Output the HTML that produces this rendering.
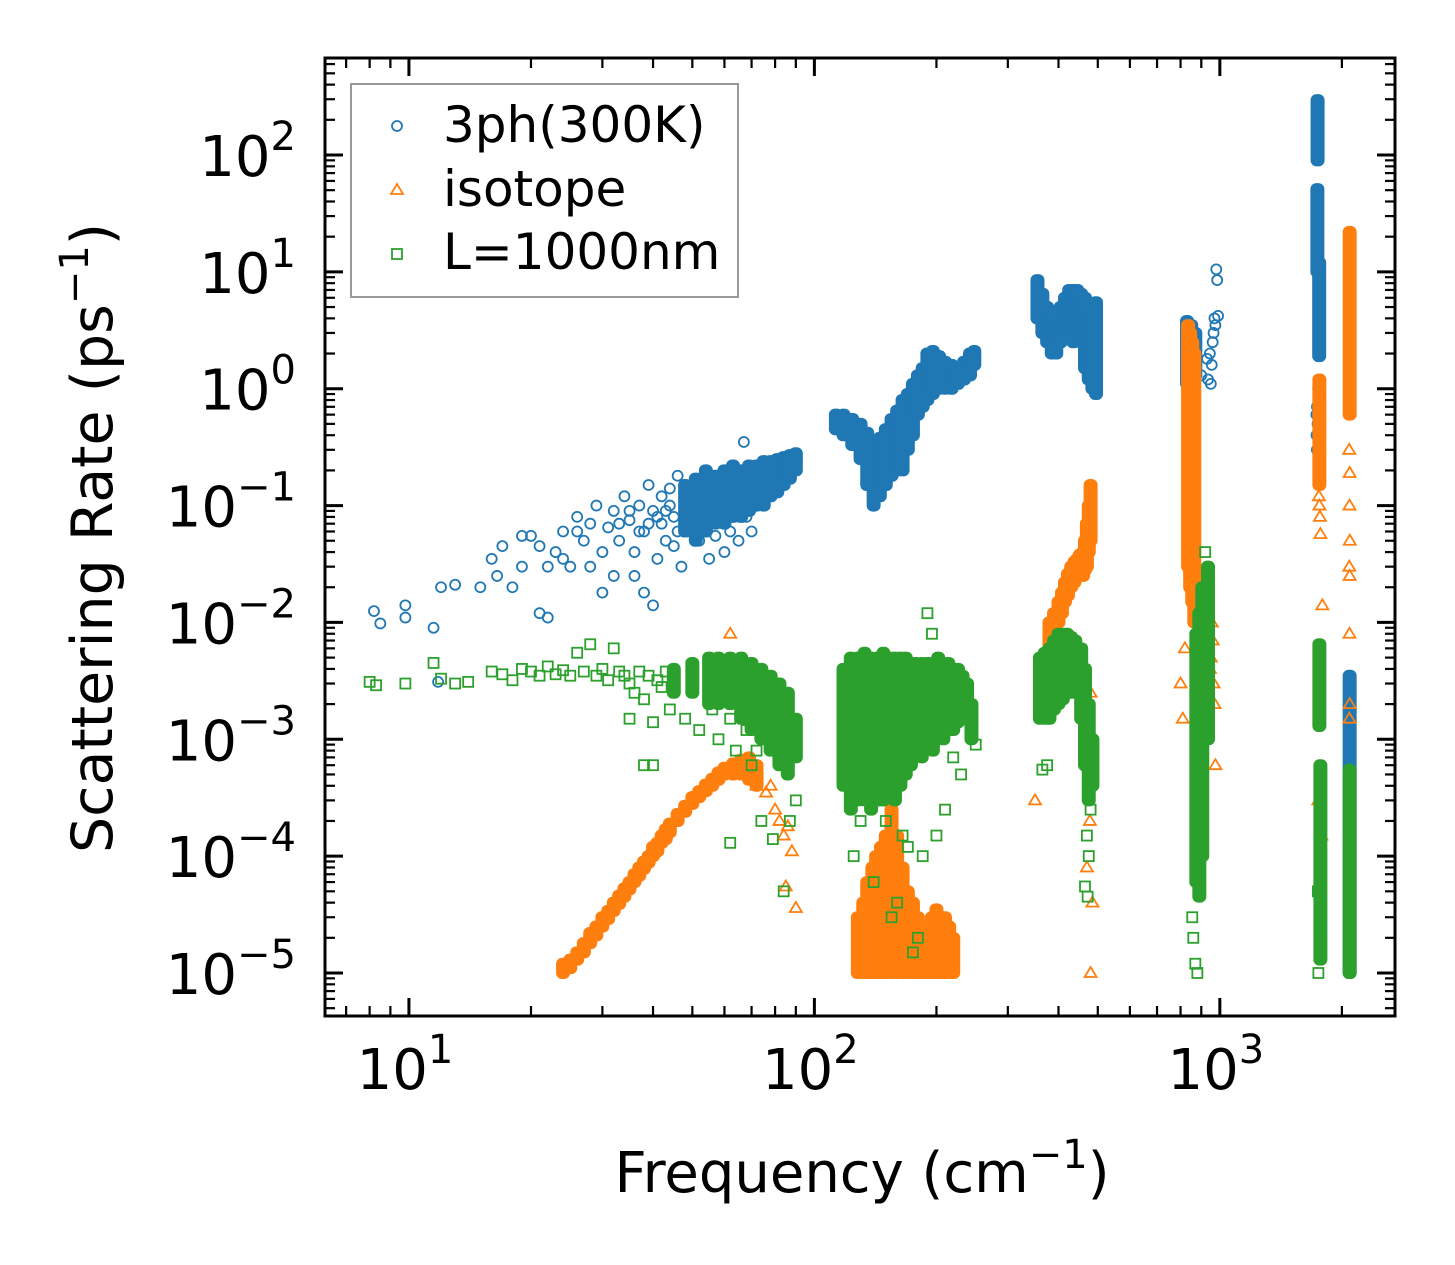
<!DOCTYPE html>
<html><head><meta charset="utf-8"><style>
html,body{margin:0;padding:0;background:#fff;}
svg{display:block;font-family:"DejaVu Sans","Liberation Sans",sans-serif;}
</style></head><body>
<svg id="chart" width="1455" height="1265" viewBox="0 0 1455 1265" xmlns="http://www.w3.org/2000/svg">
<rect width="1455" height="1265" fill="#fff"/>
<g id="marks"></g>
<g id="axes"></g>
<g id="legend">
  <rect x="351" y="84" width="387" height="213" fill="#fff" fill-opacity="0.8" stroke="#999" stroke-width="2"/>
  <g>
    <circle cx="397" cy="126" r="5" fill="none" stroke="#1f77b4" stroke-width="1.8"/>
    <text x="443" y="142" font-size="50">3ph(300K)</text>
  </g>
  <g>
    <path d="M397,184 L403,194 L391,194 Z" fill="none" stroke="#ff7f0e" stroke-width="1.8"/>
    <text x="443" y="206" font-size="50">isotope</text>
  </g>
  <g>
    <rect x="392" y="249" width="10" height="10" fill="none" stroke="#2ca02c" stroke-width="1.8"/>
    <text x="443" y="269" font-size="50">L=1000nm</text>
  </g>
</g>
<text x="862" y="1192" font-size="56" text-anchor="middle">Frequency (cm<tspan dy="-24" font-size="40">−1</tspan><tspan dy="24">)</tspan></text>
<text transform="translate(112,538) rotate(-90)" font-size="57" text-anchor="middle">Scattering Rate (ps<tspan dy="-24" font-size="40">−1</tspan><tspan dy="24">)</tspan></text>
</svg>
<script>
// ---------- data ----------
// scattered points [frequency, rate]
const phPoints = [[8.2,0.0125],[8.5,0.0098],[9.8,0.014],[9.8,0.011],[11.5,0.009],[11.8,0.0031],[12,0.02],[13,0.021],[15,0.02],[16,0.035],[16.5,0.025],[17,0.045],[18,0.02],[19,0.03],[19,0.055],[20,0.055],[21,0.045],[22,0.03],[21,0.012],[22,0.011],[23,0.04],[24,0.06],[25,0.03],[26,0.08],[27,0.05],[28,0.07],[29,0.1],[30,0.04],[31,0.065],[32,0.09],[33,0.05],[34,0.12],[35,0.075],[36,0.04],[37,0.1],[38,0.06],[39,0.15],[40,0.09],[41,0.035],[42,0.12],[43,0.05],[44,0.14],[45,0.08],[46,0.18],[38,0.018],[40,0.014],[36,0.025],[47,0.03],[55,0.035],[60,0.04],[65,0.05],[70,0.06],[42,0.07],[44,0.1],[46,0.06],[33,0.07],[35,0.09],[37,0.06],[39,0.07],[41,0.08],[43,0.09],[45,0.045],[52,0.05],[57,0.055],[62,0.06],[67,0.35],[68,0.08],[28,0.03],[30,0.018],[32,0.025],[26,0.06],[24,0.035],
[1735,0.3],[1742,0.5],[1736,0.7],[1748,1.0],[1732,0.4],[1750,0.85],[1730,0.6],
[900,1.3],[930,1.8],[950,1.1],[955,1.6],[960,2.5],[965,3],[970,4],[975,3.5],[980,10.5],[985,8.5],[990,4.2],[945,2],[935,1.2]];
// dense columns [frequency, low, high]
const phBands = [[48,0.06,0.15],[51,0.05,0.17],[54,0.06,0.2],[57,0.07,0.18],[60,0.07,0.2],[63,0.08,0.22],[66,0.08,0.2],[69,0.09,0.22],[72,0.1,0.22],[75,0.1,0.24],[78,0.12,0.24],[81,0.13,0.25],[84,0.15,0.26],[87,0.17,0.27],[90,0.2,0.28],
[113,0.45,0.6],[118,0.4,0.6],[124,0.33,0.55],[130,0.25,0.5],[135,0.15,0.42],[140,0.1,0.32],[145,0.12,0.38],[150,0.15,0.45],[155,0.18,0.55],[160,0.2,0.65],[165,0.2,0.8],[170,0.3,0.9],[175,0.4,1.1],[180,0.6,1.3],[185,0.7,1.5],[190,0.8,2.0],[196,0.9,2.1],[203,1.0,1.9],[210,1.0,1.7],[218,1.0,1.6],[226,1.1,1.5],[234,1.2,1.7],[242,1.3,2.0],[248,1.6,2.1],
[355,4,8.5],[365,3,6.5],[375,2.5,5],[385,2,4.5],[395,2,4],[405,2.5,5],[415,3,6],[425,3,7],[435,2.5,7],[445,3,7],[455,2.5,6.5],[465,1.5,6],[475,1.2,5],[485,1,4.5],[495,0.9,5.5],
[830,1.1,3.8],[850,1.2,3.5],[870,1.3,3],
[1740,10,51],[1742,90,295],[1758,1.9,12],[2090,1e-5,3.5e-3]];

const isoPoints = [[62,8e-3],[90,3.6e-5],[85,5.5e-5],[88,1.1e-4],[86,1.8e-4],[84,1.5e-4],[82,2e-4],[80,2.5e-4],[76,3.5e-4],[78,4e-4],[72,4e-4],[350,3e-4],[480,2.5e-3],[482,5e-4],[478,2e-4],[485,4e-5],[480,1e-5],[470,8e-5],[475,1e-3],[472,2e-3],
[955,0.01],[960,0.007],[950,0.005],[965,0.003],[970,0.002],[975,0.0006],[945,0.004],[800,0.003],[810,0.0015],[820,0.006],
[1760,0.1],[1765,0.08],[1770,0.057],[1790,0.014],[1750,3e-4],[1780,1.5e-4],[1755,0.12],
[2085,0.3],[2090,0.19],[2088,0.1],[2092,0.05],[2086,0.03],[2090,0.025],[2088,0.008],[2090,0.002],[2087,0.0015]];
const isoBands = [[24,1e-5,1.2e-5],[25,1.1e-5,1.3e-5],[26,1.3e-5,1.5e-5],[27,1.5e-5,1.8e-5],[28,1.8e-5,2.2e-5],[29,2.1e-5,2.5e-5],[30,2.5e-5,3e-5],[31,2.9e-5,3.4e-5],[32,3.4e-5,4e-5],[33,3.9e-5,4.6e-5],[34,4.5e-5,5.3e-5],[35,5.2e-5,6e-5],[36,6e-5,7e-5],[37,6.8e-5,8e-5],[38,7.8e-5,9e-5],[39,8.8e-5,1e-4],[40,1e-4,1.2e-4],[41,1.1e-4,1.3e-4],[42,1.3e-4,1.5e-4],[43,1.4e-4,1.7e-4],[44,1.6e-4,1.9e-4],[46,2e-4,2.3e-4],[48,2.4e-4,2.7e-4],[50,2.8e-4,3.2e-4],[52,3.2e-4,3.6e-4],[54,3.6e-4,4.1e-4],[56,4e-4,4.6e-4],[58,4.5e-4,5.2e-4],[60,5e-4,5.7e-4],[63,5e-4,6.2e-4],[66,5e-4,6.7e-4],[69,4.5e-4,7e-4],[72,4e-4,6e-4],
[128,1e-5,3e-5],[132,1e-5,4e-5],[135,1e-5,6e-5],[139,1e-5,8e-5],[142,1e-5,1e-4],[146,1e-5,1.2e-4],[150,1e-5,1.5e-4],[155,1e-5,2.5e-4],[160,1e-5,1.5e-4],[165,1e-5,8e-5],[170,1e-5,5e-5],[175,1e-5,4e-5],[180,1e-5,3e-5],[185,1e-5,2.5e-5],[190,1e-5,2.5e-5],[195,1e-5,3e-5],[200,1e-5,3.5e-5],[205,1e-5,3e-5],[210,1e-5,3e-5],[215,1e-5,2.5e-5],[220,1e-5,2e-5],
[380,3e-3,1e-2],[390,6e-3,1.2e-2],[400,1e-2,1.5e-2],[408,1.2e-2,1.8e-2],[415,1.5e-2,2.2e-2],[422,1.7e-2,2.6e-2],[430,2e-2,3e-2],[438,2.2e-2,3.3e-2],[445,2.5e-2,3.5e-2],[452,2.5e-2,3.8e-2],[460,2.5e-2,4e-2],[465,2.8e-2,5e-2],[470,3e-2,0.07],[475,0.04,0.1],[480,0.05,0.15],
[835,0.03,3.5],[845,0.02,3],[855,0.015,2.5],[865,0.01,2],[1760,0.15,1.2],[2090,0.6,22]];

const lPoints = [[8,3.1e-3],[8.3,2.9e-3],[9.8,3e-3],[11.5,4.5e-3],[12,3.3e-3],[13,3e-3],[14,3.1e-3],[16,3.8e-3],[17,3.6e-3],[18,3.2e-3],[19,4e-3],[20,3.8e-3],[21,3.5e-3],[22,4.2e-3],[23,3.6e-3],[24,3.9e-3],[25,3.5e-3],[26,5.5e-3],[27,3.8e-3],[28,6.5e-3],[29,3.5e-3],[30,4e-3],[31,3.2e-3],[32,6e-3],[33,3.8e-3],[34,3.5e-3],[35,3e-3],[36,2.5e-3],[37,3.8e-3],[38,2.2e-3],[39,3.5e-3],[40,1.4e-3],[40,6e-4],[41,3.2e-3],[42,2.8e-3],[43,3.8e-3],[44,1.8e-3],[38,6e-4],[35,1.5e-3],[48,1.5e-3],[52,1.2e-3],[56,1.8e-3],[58,1e-3],[62,1.5e-3],[64,8e-4],[68,1.2e-3],[70,6e-4],[74,2e-4],[79,1.4e-4],[84,5e-5],[62,1.3e-4],[72,8e-4],[76,1e-3],[89,8e-4],[90,3e-4],[87,2e-4],
[125,1e-4],[130,2e-4],[140,6e-5],[150,2e-4],[160,4e-5],[170,1.2e-4],[175,1.5e-5],[180,2e-5],[185,1e-4],[190,1.2e-2],[195,8e-3],[210,2.5e-4],[220,7e-4],[245,1.5e-3],[250,9e-4],[165,1.5e-4],[155,3e-5],[145,3e-4],[200,1.5e-4],[230,5e-4],
[365,5.5e-4],[375,6e-4],[470,1.5e-4],[475,1e-4],[465,5.5e-5],[472,4.5e-5],[480,2.5e-4],
[860,2e-5],[870,1.2e-5],[880,1e-5],[855,3e-5],[920,0.04],[930,0.025],[935,0.02],[940,0.015],[925,0.012],[1750,1e-5],[1745,5e-5],[1760,2.5e-5]];
const lBands = [[45,2.5e-3,4e-3],[50,2.5e-3,4.5e-3],[55,2e-3,5e-3],[58,2e-3,5e-3],[62,2e-3,5e-3],[66,1.5e-3,5e-3],[70,1.2e-3,4.5e-3],[74,1e-3,4e-3],[78,8e-4,3.5e-3],[82,6e-4,3e-3],[86,5e-4,2.5e-3],[90,7e-4,1.5e-3],
[118,4e-4,4e-3],[123,2.5e-4,5e-3],[128,3e-4,5e-3],[133,3e-4,5.5e-3],[138,2.5e-4,5e-3],[143,3e-4,5e-3],[148,3e-4,5.5e-3],[153,3.5e-4,5e-3],[158,3e-4,5e-3],[163,4e-4,5e-3],[168,5e-4,5e-3],[173,6e-4,4.5e-3],[178,8e-4,4.5e-3],[184,7e-4,4.5e-3],[190,1e-3,4.5e-3],[196,8e-4,4.5e-3],[202,1e-3,5e-3],[208,1e-3,4.5e-3],[214,1.2e-3,4.5e-3],[220,1.2e-3,4e-3],[226,1.4e-3,4e-3],[232,1.5e-3,3.5e-3],[238,1.5e-3,3e-3],[244,1e-3,2e-3],
[360,1.5e-3,5e-3],[370,1.5e-3,5.5e-3],[380,1.5e-3,6e-3],[390,1.8e-3,7e-3],[400,2e-3,8e-3],[410,2.2e-3,8e-3],[420,2.5e-3,8e-3],[430,2.5e-3,7.5e-3],[440,2.5e-3,7e-3],[455,1.5e-3,6e-3],[465,6e-4,4e-3],[475,3e-4,2e-3],[485,4e-4,1e-3],
[875,6e-5,8e-3],[890,4.5e-5,0.012],[905,1e-4,0.02],[935,1e-3,0.03],[1760,1.3e-3,6.5e-3],[1770,1.3e-5,6e-4],[2090,1e-5,5.5e-4]];

const xTickLabels = ["1","2","3"];
const yTickLabels = ["−5","−4","−3","−2","−1","0","1","2"];

// ---------- axes ----------
const L=325, R=1395, T=58, B=1016;
const xLogMin=0.793, xLogMax=3.432, yLogMin=-5.368, yLogMax=2.83;
function xs(f){return L+(Math.log10(f)-xLogMin)/(xLogMax-xLogMin)*(R-L);}
function ys(r){return B-(Math.log10(r)-yLogMin)/(yLogMax-yLogMin)*(B-T);}
const NS="http://www.w3.org/2000/svg";
function mk(tag,attrs,parent){const e=document.createElementNS(NS,tag);for(const k in attrs)e.setAttribute(k,attrs[k]);parent.appendChild(e);return e;}
const marks=document.getElementById('marks');
const axes=document.getElementById('axes');
const colors={ph:"#1f77b4",iso:"#ff7f0e",l:"#2ca02c"};

function marker(kind,x,y,g){
  let e;
  if(kind==='ph') e=mk('circle',{cx:x,cy:y,r:5,fill:'none',stroke:colors.ph,'stroke-width':1.8},g);
  else if(kind==='iso') e=mk('path',{d:`M${x},${y-6}L${x+6},${y+4}L${x-6},${y+4}Z`,fill:'none',stroke:colors.iso,'stroke-width':1.8},g);
  else e=mk('rect',{x:x-5,y:y-5,width:10,height:10,fill:'none',stroke:colors.l,'stroke-width':1.8},g);
  return e;
}
function drawSeries(kind,bands,points,name){
  const g=mk('g',{},marks);
  
  
  bands.forEach(b=>{
    const x=xs(b[0]), y1=ys(b[2]), y2=ys(b[1]);
    const e=mk('rect',{x:x-7,y:y1-6,width:14,height:(y2-y1)+12,rx:6,fill:colors[kind]},g);
    
    
  });
  points.forEach(p=>{
    const e=marker(kind,xs(p[0]),ys(p[1]),g);
    
    
  });
}
drawSeries('ph',phBands,phPoints,'series-3ph');
drawSeries('iso',isoBands,isoPoints,'series-isotope');
drawSeries('l',lBands,lPoints,'series-boundary');

// frame
const frame=mk('rect',{x:L,y:T,width:R-L,height:B-T,fill:'none',stroke:'#000','stroke-width':3},axes);


// x ticks
for(let d=0; d<=3; d++){
  for(let m=1;m<=9;m++){
    const v=m*Math.pow(10,d); const lv=Math.log10(v);
    if(lv<xLogMin||lv>xLogMax) continue;
    const x=xs(v), len=m===1?18:10, w=m===1?3:2.2;
    mk('line',{x1:x,y1:B,x2:x,y2:B-len,stroke:'#000','stroke-width':w},axes);
    mk('line',{x1:x,y1:T,x2:x,y2:T+len,stroke:'#000','stroke-width':w},axes);
  }
}
xTickLabels.forEach(s=>{
  const x=xs(Math.pow(10,+s));
  const t=mk('text',{x:x-4,y:1089,'font-size':56,'text-anchor':'middle'},axes);
  
  
  t.innerHTML='10<tspan dy="-26" font-size="40">'+s+'</tspan>';
});
// y ticks
for(let d=-6; d<=2; d++){
  for(let m=1;m<=9;m++){
    const v=m*Math.pow(10,d); const lv=Math.log10(v);
    if(lv<yLogMin||lv>yLogMax) continue;
    const y=ys(v), len=m===1?18:10, w=m===1?3:2.2;
    mk('line',{x1:L,y1:y,x2:L+len,y2:y,stroke:'#000','stroke-width':w},axes);
    mk('line',{x1:R,y1:y,x2:R-len,y2:y,stroke:'#000','stroke-width':w},axes);
  }
}
yTickLabels.forEach(s=>{
  const e=+s.replace('−','-');
  const y=ys(Math.pow(10,e));
  const t=mk('text',{x:296,y:y+21,'font-size':56,'text-anchor':'end'},axes);
  
  
  t.innerHTML='10<tspan dy="-26" font-size="40">'+s+'</tspan>';
});
</script>
</body></html>
